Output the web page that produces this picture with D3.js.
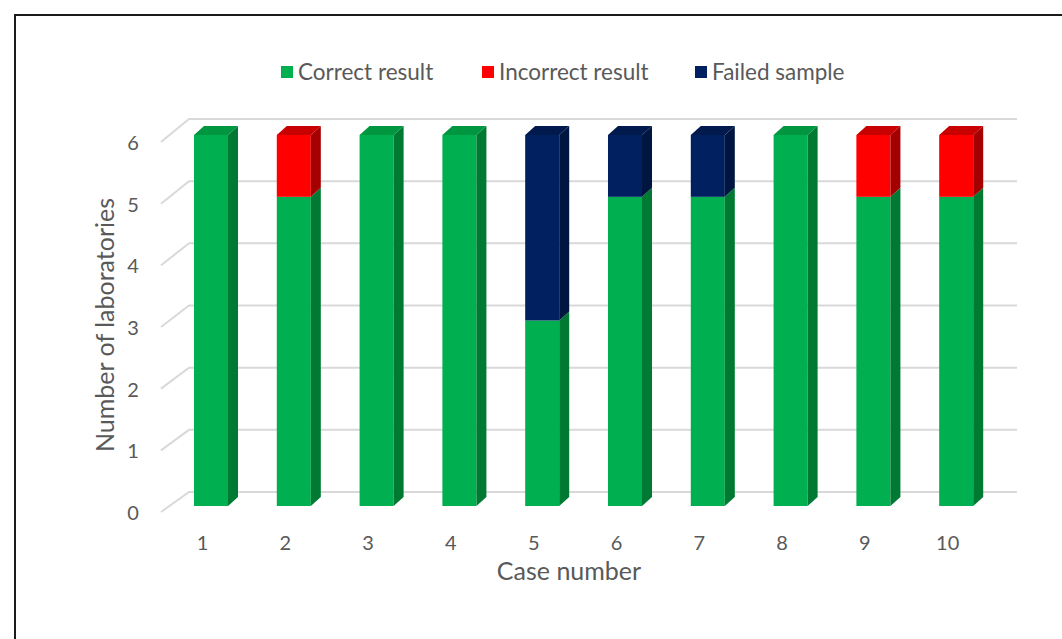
<!DOCTYPE html>
<html>
<head>
<meta charset="utf-8">
<script src="https://cdn.jsdelivr.net/npm/d3@7/dist/d3.min.js"></script>
<style>
  html, body { margin: 0; padding: 0; background: #fff; }
  svg { display: block; font-family: "Lato", "Open Sans", sans-serif; }
</style>
</head>
<body>
<svg id="chart" width="1062" height="639"></svg>
<script>
// Outcome per proficiency-test case
const cases = ["1", "2", "3", "4", "5", "6", "7", "8", "9", "10"];
const correctResult = [6, 5, 6, 6, 3, 5, 5, 6, 5, 5];
const incorrectResult = [0, 1, 0, 0, 0, 0, 0, 0, 1, 1];
const failedSample = [0, 0, 0, 0, 3, 1, 1, 0, 0, 0];
const yTicks = [0, 1, 2, 3, 4, 5, 6];
const seriesNames = ["Correct result", "Incorrect result", "Failed sample"];

const palette = {
  "Correct result":   { front: "#00B050", side: "#007A33", top: "#00963F" },
  "Incorrect result": { front: "#FF0000", side: "#A50000", top: "#C80000" },
  "Failed sample":    { front: "#002060", side: "#001540", top: "#001A4E" }
};

const svg = d3.select("#chart");
const textColor = "#595959";

// chart frame
svg.append("path")
  .attr("d", "M15,700 L15,15 L1100,15")
  .attr("fill", "none")
  .attr("stroke", "#1a1a1a")
  .attr("stroke-width", 2);

// scales: bar front plane, wall front edge, back wall
const yBar = d3.scaleLinear().domain([0, 6]).range([506, 135]);
const yWallFront = d3.scaleLinear().domain([0, 6]).range([512, 142]);
const yWallBack = d3.scaleLinear().domain([0, 6]).range([492, 119]);
const wallFrontX = 161, wallBackX = 189, wallRightX = 1017;

const x = d3.scaleBand()
  .domain(cases)
  .range([169.6, 997.6])
  .paddingInner(0.589)
  .paddingOuter(0.2945);

const depthX = 10, depthY = -9;

// gridlines on side wall and back wall
const grid = svg.append("g");
yTicks.forEach(v => {
  grid.append("path")
    .attr("d", `M${wallFrontX},${yWallFront(v)} L${wallBackX},${yWallBack(v)} L${wallRightX},${yWallBack(v)}`)
    .attr("fill", "none")
    .attr("stroke", "#D9D9D9")
    .attr("stroke-width", 2);
});

// y-axis tick labels
svg.append("g").selectAll("text")
  .data(yTicks)
  .join("text")
  .attr("x", 133)
  .attr("y", d => yWallFront(d) + 8)
  .attr("text-anchor", "middle")
  .attr("font-size", 20)
  .attr("fill", textColor)
  .text(d => d);

// stacked 3D columns
const rows = cases.map((c, i) => ({
  case: c,
  "Correct result": correctResult[i],
  "Incorrect result": incorrectResult[i],
  "Failed sample": failedSample[i]
}));
const stacked = d3.stack().keys(seriesNames)(rows);

const bars = svg.append("g");
cases.forEach((c, i) => {
  const x0 = x(c), x1 = x0 + x.bandwidth();
  const segs = stacked.map(s => ({ key: s.key, y0: s[i][0], y1: s[i][1] }))
    .filter(s => s.y1 > s.y0);
  segs.forEach((s, j) => {
    const col = palette[s.key];
    const yb = yBar(s.y0), yt = yBar(s.y1);
    bars.append("rect")
      .attr("x", x0).attr("y", yt)
      .attr("width", x1 - x0).attr("height", yb - yt)
      .attr("fill", col.front);
    bars.append("path")
      .attr("d", `M${x1},${yb} L${x1 + depthX},${yb + depthY} L${x1 + depthX},${yt + depthY} L${x1},${yt} Z`)
      .attr("fill", col.side);
    if (j === segs.length - 1) {
      bars.append("path")
        .attr("d", `M${x0},${yt} L${x0 + depthX},${yt + depthY} L${x1 + depthX},${yt + depthY} L${x1},${yt} Z`)
        .attr("fill", col.top);
    }
  });
});

// category labels
svg.append("g").selectAll("text")
  .data(cases)
  .join("text")
  .attr("x", d => x(d) + x.bandwidth() / 2 - 8.5)
  .attr("y", 550)
  .attr("text-anchor", "middle")
  .attr("font-size", 20)
  .attr("fill", textColor)
  .text(d => d);

// axis titles
svg.append("text")
  .attr("x", 569).attr("y", 580)
  .attr("text-anchor", "middle")
  .attr("font-size", 25)
  .attr("fill", textColor)
  .text("Case number");

svg.append("text")
  .attr("transform", "translate(114,325) rotate(-90)")
  .attr("text-anchor", "middle")
  .attr("font-size", 25)
  .attr("fill", textColor)
  .text("Number of laboratories");

// legend
const legendX = [281, 482, 695];
const legend = svg.append("g");
seriesNames.forEach((name, i) => {
  legend.append("rect")
    .attr("x", legendX[i]).attr("y", 66)
    .attr("width", 12).attr("height", 12)
    .attr("fill", palette[name].front);
  legend.append("text")
    .attr("x", legendX[i] + 17).attr("y", 80)
    .attr("font-size", 22.5)
    .attr("fill", textColor)
    .text(name);
});
</script>
</body>
</html>
